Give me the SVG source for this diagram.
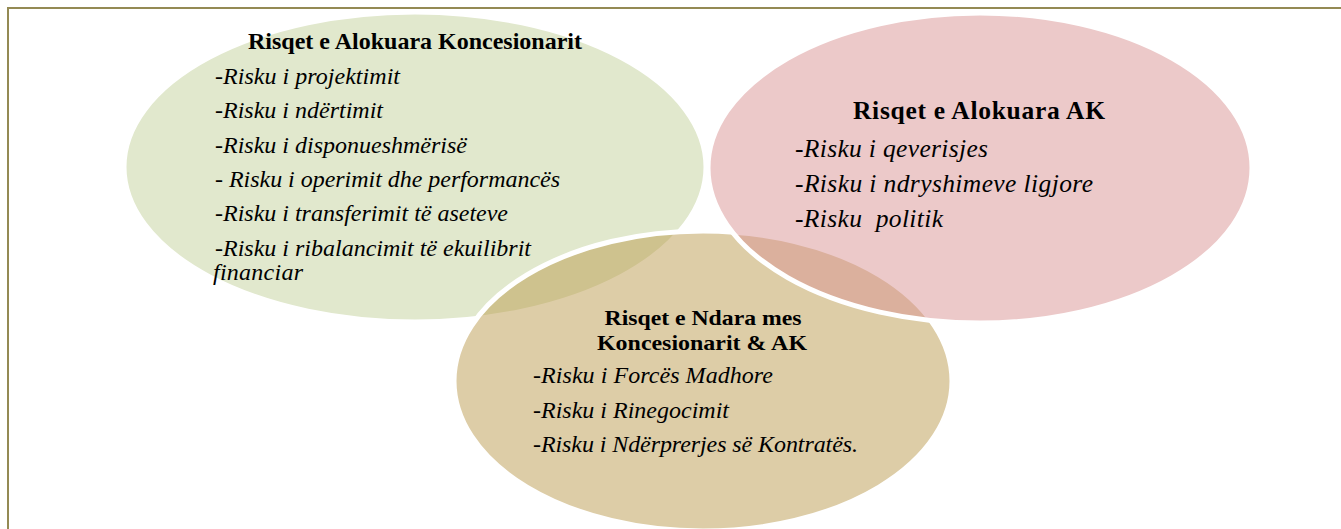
<svg xmlns="http://www.w3.org/2000/svg" width="1341" height="529" viewBox="0 0 1341 529">
  <style>
    .frame { fill: #FFFFFF; stroke: #948A54; stroke-width: 2; }
    .venn { stroke: #FFFFFF; stroke-width: 5; }
    .title { font-family: "Liberation Serif", "Times New Roman", serif; font-weight: bold; font-size: 24px; fill: #000000; text-anchor: middle; }
    .item { font-family: "Liberation Serif", "Times New Roman", serif; font-style: italic; font-size: 24px; fill: #000000; }
    .big { font-size: 25.5px; }
    .tight { font-size: 21px; }
  </style>
  <rect class="frame" x="8" y="8" width="1345" height="535"/>
  <g id="node-concessionaire">
    <ellipse class="venn" cx="415" cy="167" rx="291" ry="155" fill="#C3D19B" fill-opacity="0.5"/>
  </g>
  <g id="node-shared">
    <ellipse class="venn" cx="703" cy="381" rx="249" ry="150" fill="#BB9B4F" fill-opacity="0.5"/>
  </g>
  <g id="node-ak">
    <ellipse class="venn" cx="980" cy="168" rx="272" ry="155" fill="#D99393" fill-opacity="0.5"/>
  </g>
  <g id="connectors"></g>
  <g id="text-concessionaire">
    <text class="title" x="415" y="49" textLength="334">Risqet e Alokuara Koncesionarit</text>
    <text class="item" x="215" y="84" textLength="185">-Risku i projektimit</text>
    <text class="item" x="215" y="118" textLength="168">-Risku i ndërtimit</text>
    <text class="item" x="215" y="153" textLength="252">-Risku i disponueshmërisë</text>
    <text class="item" x="215" y="187" textLength="345">- Risku i operimit dhe performancës</text>
    <text class="item" x="215" y="221" textLength="293">-Risku i transferimit të aseteve</text>
    <text class="item" x="215" y="256" textLength="316">-Risku i ribalancimit të ekuilibrit</text>
    <text class="item" x="213" y="280" textLength="90">financiar</text>
  </g>
  <g id="text-ak">
    <text class="title big" x="979" y="119" textLength="252">Risqet e Alokuara AK</text>
    <text class="item big" x="795" y="157" textLength="193">-Risku i qeverisjes</text>
    <text class="item big" x="795" y="192" textLength="298">-Risku i ndryshimeve ligjore</text>
    <text class="item big" x="795" y="227" textLength="148" xml:space="preserve">-Risku  politik</text>
  </g>
  <g id="text-shared">
    <text class="title tight" x="703" y="325" textLength="197" lengthAdjust="spacingAndGlyphs">Risqet e Ndara mes</text>
    <text class="title tight" x="702" y="350" textLength="210" lengthAdjust="spacingAndGlyphs">Koncesionarit &amp; AK</text>
    <text class="item" x="533" y="383" textLength="240">-Risku i Forcës Madhore</text>
    <text class="item" x="533" y="418" textLength="196">-Risku i Rinegocimit</text>
    <text class="item" x="533" y="452" textLength="325">-Risku i Ndërprerjes së Kontratës.</text>
  </g>
</svg>
